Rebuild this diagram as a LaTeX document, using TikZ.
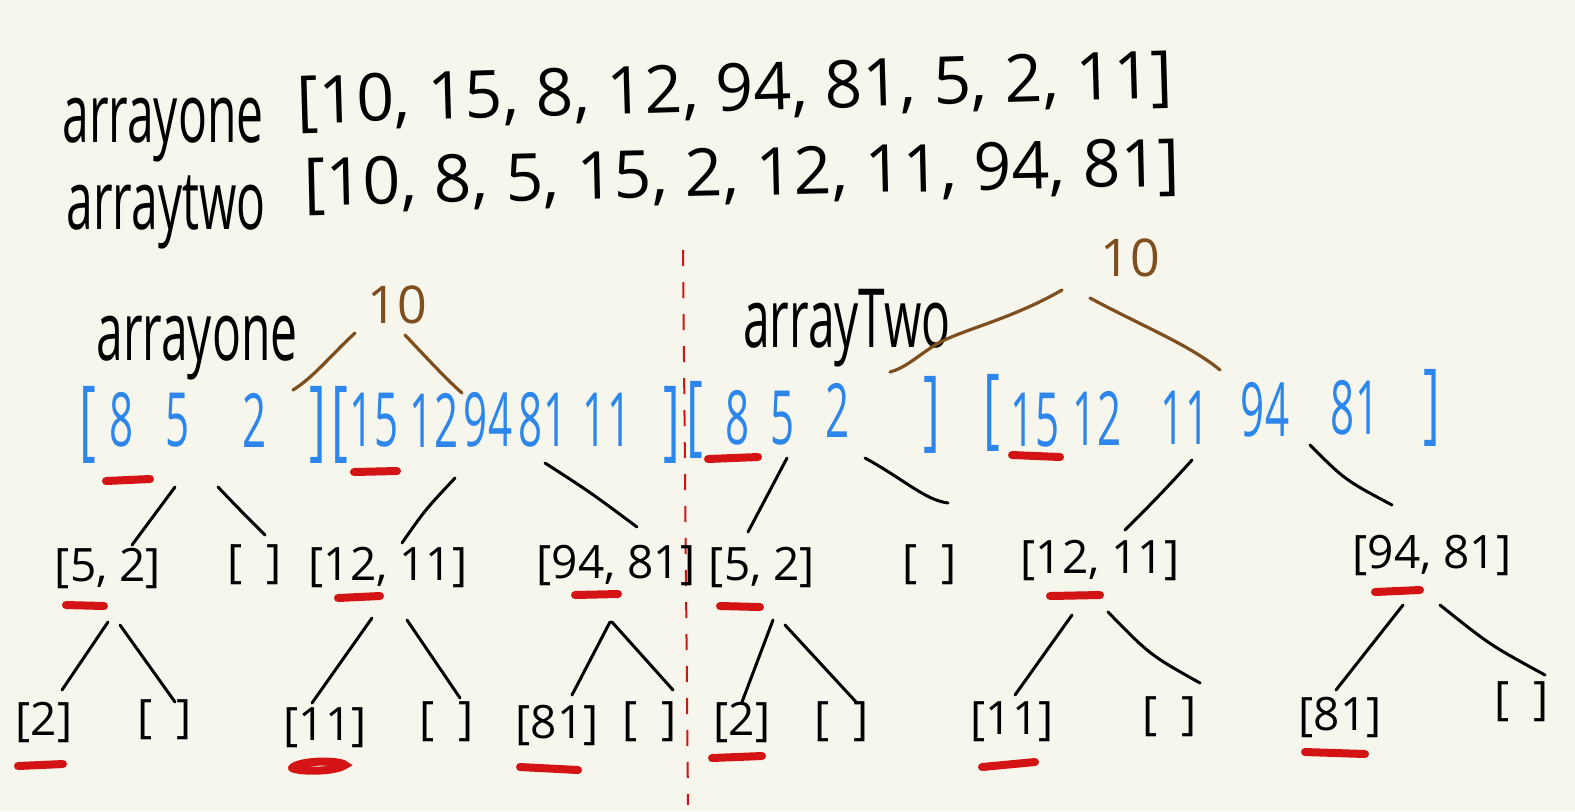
\documentclass[tikz,border=0pt]{standalone}
\usepackage{fontspec}
\setmainfont{Open Sans}
\usetikzlibrary{calc}
\definecolor{bg}{HTML}{F7F6EC}
\definecolor{hblue}{HTML}{2C86EC}
\definecolor{hbrown}{HTML}{7E4E1E}
\definecolor{hred}{HTML}{D41414}
\newcommand\emp{[\hspace{12pt}]}
\newcommand\tallb[1]{\scalebox{0.75}[1.3]{#1}}
\newcommand\nar[1]{\scalebox{0.62}[1.1]{#1}}
\begin{document}
\begin{tikzpicture}[x=0.5pt,y=-0.5pt,
  lbl/.style={inner sep=0pt, font=\fontsize{24}{28}\selectfont},
  arr/.style={inner sep=0pt, font=\fontsize{33}{38}\selectfont},
  bl/.style={inner sep=0pt, text=hblue, font=\fontsize{34}{40}\selectfont},
  br/.style={inner sep=0pt, text=hbrown, font=\fontsize{26}{30}\selectfont},
  sub/.style={inner sep=0pt, font=\fontsize{23}{28}\selectfont},
  conn/.style={line width=1.5pt, line cap=round, black},
  bconn/.style={line width=1.6pt, line cap=round, hbrown},
  ul/.style={line width=4pt, line cap=round, hred},
  sep/.style={hred, line width=1pt, dash pattern=on 8pt off 8pt}]
\fill[bg] (0,0) rectangle (1575,811);
\useasboundingbox (0,0) rectangle (1575,811);

% top lines
\node[lbl] (t1) at (163,130) {\scalebox{1}[1.7]{arrayone}};
\node[arr, rotate=1.7] (a1) at (735,92) {[10, 15, 8, 12, 94, 81, 5, 2, 11]};
\node[lbl] (t2) at (166,212) {\scalebox{1}[1.7]{arraytwo}};
\node[arr, rotate=1.3] (a2) at (742,177) {[10, 8, 5, 15, 2, 12, 11, 94, 81]};

% divider
\draw[sep] (683,250) -- (688,805);

% ================= left tree =================
\node[lbl] (l1) at (197,348) {\scalebox{1}[1.7]{arrayone}};
\node[br] (r1) at (397,305) {10};
\coordinate (b1a) at (355,333); \coordinate (b1b) at (293,390);
\coordinate (b2a) at (405,335); \coordinate (b2b) at (462,393);
\draw[bconn] (b1a) .. controls (330,356) and (315,376) .. (b1b);
\draw[bconn] (b2a) .. controls (425,356) and (445,378) .. (b2b);

\node[bl] (lo1) at (88,425) {\tallb{[}};
\node[bl] (l8) at (122,420) {\nar{8}};
\node[bl] (l5) at (178,420) {\nar{5}};
\node[bl] (l2) at (255,420) {\nar{2}};
\node[bl] (lc1) at (318,425) {\tallb{]}};
\node[bl] (lo2) at (340,425) {\tallb{[}};
\node[bl] (l15) at (374,420) {\nar{15}};
\node[bl] (l12) at (434,420) {\nar{12}};
\node[bl] (l94) at (488,420) {\nar{94}};
\node[bl] (l81) at (543,420) {\nar{81}};
\node[bl] (l11) at (607,420) {\nar{11}};
\node[bl] (lc2) at (672,425) {\tallb{]}};
\draw[ul] (106,481) -- (150,479);
\draw[ul] (354,472) -- (397,471);

\coordinate (k1a) at (175,487); \coordinate (k1b) at (132,545);
\coordinate (k2a) at (218,487); \coordinate (k2b) at (265,535);
\coordinate (k3a) at (455,478); \coordinate (k3b) at (402,543);
\coordinate (k4a) at (545,463); \coordinate (k4b) at (637,527);
\draw[conn] (k1a) -- (k1b);
\draw[conn] (k2a) .. controls (240,510) .. (k2b);
\draw[conn] (k3a) .. controls (425,510) .. (k3b);
\draw[conn] (k4a) .. controls (590,492) .. (k4b);

\node[sub] (ln52) at (108,568) {[5, 2]};
\node[sub] (le1) at (255,565) {\emp};
\node[sub] (ln1211) at (388,567) {[12, 11]};
\node[sub] (ln9481) at (616,565) {[94, 81]};
\draw[ul] (66,605) -- (104,606);
\draw[ul] (338,598) -- (380,596);
\draw[ul] (575,595) -- (618,594);

\coordinate (k5a) at (108,622); \coordinate (k5b) at (62,690);
\coordinate (k6a) at (120,625); \coordinate (k6b) at (175,702);
\coordinate (k7a) at (372,618); \coordinate (k7b) at (312,703);
\coordinate (k8a) at (407,620); \coordinate (k8b) at (460,698);
\coordinate (k9a) at (610,622); \coordinate (k9b) at (572,695);
\coordinate (k10a) at (612,622); \coordinate (k10b) at (673,690);
\draw[conn] (k5a) -- (k5b);
\draw[conn] (k6a) -- (k6b);
\draw[conn] (k7a) -- (k7b);
\draw[conn] (k8a) -- (k8b);
\draw[conn] (k9a) -- (k9b);
\draw[conn] (k10a) -- (k10b);

\node[sub] (ll2) at (44,722) {[2]};
\node[sub] (le2) at (165,720) {\emp};
\node[sub] (ll11) at (325,728) {[11]};
\node[sub] (le3) at (447,722) {\emp};
\node[sub] (ll81) at (557,725) {[81]};
\node[sub] (le4) at (650,722) {\emp};
\draw[ul] (18,766) -- (63,764);
\draw[ul] (292,768) .. controls (300,760) and (340,760) .. (345,765) .. controls (335,772) and (300,772) .. (292,768);
\draw[ul] (520,767) -- (578,770);

% ================= right tree =================
\node[lbl] (l2lab) at (847,328) {\scalebox{1}[1.7]{arrayTwo}};
\node[br] (r2) at (1130,258) {10};
\coordinate (b3a) at (1062,290); \coordinate (b3b) at (890,372);
\coordinate (b4a) at (1090,298); \coordinate (b4b) at (1220,370);
\draw[bconn] (b3a) .. controls (1010,320) and (960,330) .. (935,345) .. controls (915,358) and (905,368) .. (b3b);
\draw[bconn] (b4a) .. controls (1140,325) and (1190,345) .. (b4b);

\node[bl] (ro1) at (695,420) {\tallb{[}};
\node[bl] (r8) at (738,418) {\nar{8}};
\node[bl] (r5) at (783,418) {\nar{5}};
\node[bl] (r2n) at (838,410) {\nar{2}};
\node[bl] (rc1) at (932,415) {\tallb{]}};
\node[bl] (ro2) at (992,413) {\tallb{[}};
\node[bl] (r15) at (1035,420) {\nar{15}};
\node[bl] (r12) at (1097,418) {\nar{12}};
\node[bl] (r11) at (1185,418) {\nar{11}};
\node[bl] (r94) at (1265,410) {\nar{94}};
\node[bl] (r81) at (1355,408) {\nar{81}};
\node[bl] (rc2) at (1432,408) {\tallb{]}};
\draw[ul] (708,459) -- (758,457);
\draw[ul] (1012,455) -- (1060,457);

\coordinate (k11a) at (787,458); \coordinate (k11b) at (748,532);
\coordinate (k12a) at (865,458); \coordinate (k12b) at (948,503);
\coordinate (k13a) at (1192,460); \coordinate (k13b) at (1125,530);
\coordinate (k14a) at (1310,445); \coordinate (k14b) at (1392,505);
\draw[conn] (k11a) -- (k11b);
\draw[conn] (k12a) .. controls (905,480) and (925,500) .. (k12b);
\draw[conn] (k13a) .. controls (1165,490) and (1150,505) .. (k13b);
\draw[conn] (k14a) .. controls (1345,480) .. (k14b);

\node[sub] (rn52) at (762,567) {[5, 2]};
\node[sub] (re1) at (930,565) {\emp};
\node[sub] (rn1211) at (1100,560) {[12, 11]};
\node[sub] (rn9481) at (1432,555) {[94, 81]};
\draw[ul] (720,606) -- (760,607);
\draw[ul] (1050,596) -- (1100,595);
\draw[ul] (1375,592) -- (1420,590);

\coordinate (k15a) at (773,620); \coordinate (k15b) at (742,702);
\coordinate (k16a) at (785,625); \coordinate (k16b) at (857,703);
\coordinate (k17a) at (1072,615); \coordinate (k17b) at (1015,695);
\coordinate (k18a) at (1108,612); \coordinate (k18b) at (1200,683);
\coordinate (k19a) at (1403,605); \coordinate (k19b) at (1336,690);
\coordinate (k20a) at (1440,605); \coordinate (k20b) at (1545,675);
\draw[conn] (k15a) -- (k15b);
\draw[conn] (k16a) -- (k16b);
\draw[conn] (k17a) -- (k17b);
\draw[conn] (k18a) .. controls (1150,655) .. (k18b);
\draw[conn] (k19a) -- (k19b);
\draw[conn] (k20a) .. controls (1490,645) .. (k20b);

\node[sub] (rl2) at (742,722) {[2]};
\node[sub] (re2) at (842,722) {\emp};
\node[sub] (rl11) at (1012,722) {[11]};
\node[sub] (re3) at (1170,717) {\emp};
\node[sub] (rl81) at (1340,717) {[81]};
\node[sub] (re4) at (1522,702) {\emp};
\draw[ul] (712,758) -- (762,756);
\draw[ul] (982,767) -- (1035,762);
\draw[ul] (1305,752) -- (1365,754);
\end{tikzpicture}
\end{document}
